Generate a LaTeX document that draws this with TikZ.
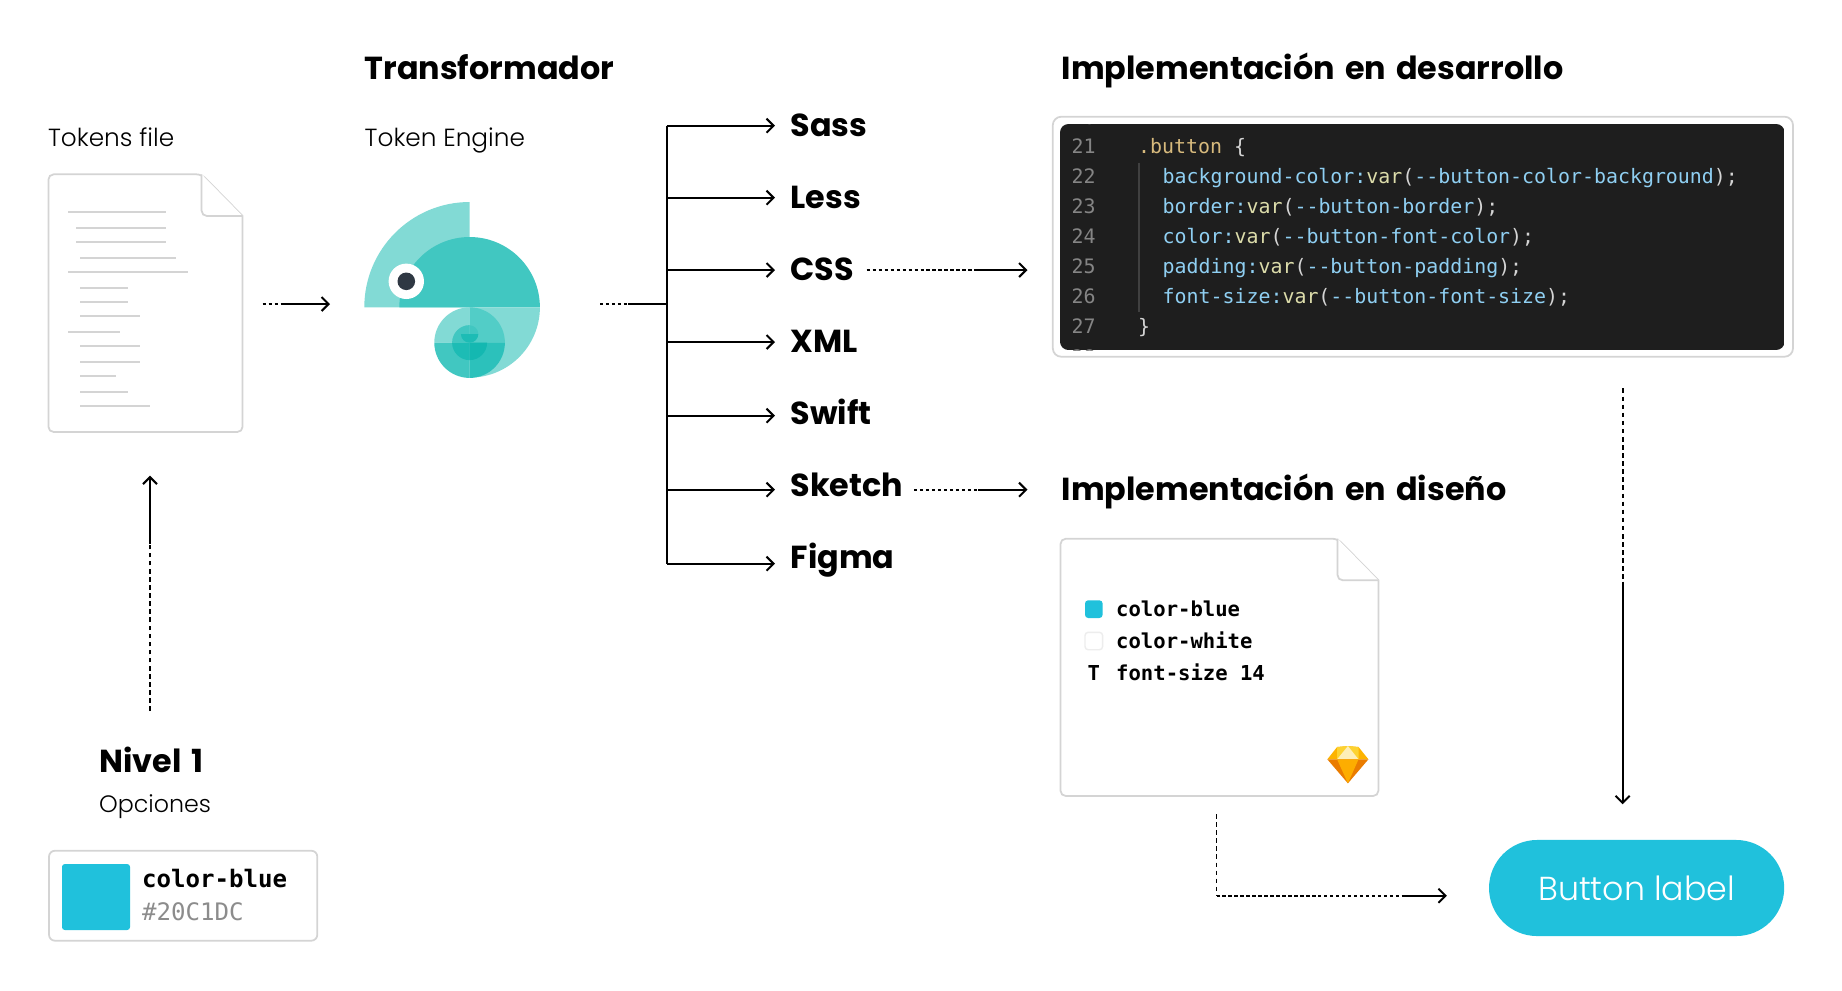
\documentclass[tikz,border=0pt]{standalone}
\usepackage{fontspec}
\usepackage{xcolor}
\usetikzlibrary{arrows.meta}

\newfontfamily\headfont{Poppins}[UprightFont=* Bold,WordSpace=1.5]
\newfontfamily\thinfont{Poppins}[UprightFont=* Light]
\newfontfamily\codefont{DejaVu Sans Mono}

\definecolor{tokenblue}{HTML}{20C1DC}
\definecolor{frame}{HTML}{D4D4D4}
\definecolor{chamlight}{HTML}{82DAD5}
\definecolor{chamsoft}{HTML}{52CDC7}
\definecolor{chammid}{HTML}{41C7C1}
\definecolor{chamshade}{HTML}{2CC1BB}
\definecolor{chamdark}{HTML}{1DBCB5}
\definecolor{chamdeep}{HTML}{14B8B1}
\definecolor{chameye}{HTML}{2F3843}
\definecolor{codeback}{HTML}{1E1E1E}
\definecolor{codenum}{HTML}{858585}
\definecolor{codeguide}{HTML}{404040}
\definecolor{codeclass}{HTML}{D7BA7D}
\definecolor{codeprop}{HTML}{8FCFF2}
\definecolor{codevar}{HTML}{DCDCAA}
\definecolor{codepunct}{HTML}{D4D4D4}
\definecolor{gemtop}{HTML}{FDB300}
\definecolor{gemside}{HTML}{EA7C00}
\definecolor{gemmid}{HTML}{FDAD00}
\definecolor{gembright}{HTML}{FDD231}
\definecolor{gempale}{HTML}{FEEEB7}

\newcommand{\cv}{\textcolor{codevar}{var}\textcolor{codepunct}{(}}
\newcommand{\ce}{\textcolor{codepunct}{);}}

\tikzset{
  title/.style={anchor=base west,inner sep=0pt,font=\headfont\fontsize{9.05}{10}\selectfont},
  thin/.style={anchor=base west,inner sep=0pt,font=\thinfont\fontsize{7.05}{8}\selectfont},
  codeline/.style={anchor=base west,inner sep=0pt,text=codeprop,font=\codefont\fontsize{5.66}{7}\selectfont},
  codenumber/.style={anchor=base west,inner sep=0pt,text=codenum,font=\codefont\fontsize{5.66}{7}\selectfont},
  layerline/.style={anchor=base west,inner sep=0pt,font=\codefont\bfseries\fontsize{5.85}{7}\selectfont},
  linkline/.style={line width=.57pt,-{Straight Barb[length=2pt,width=4pt,line width=.57pt]}},
  trunkline/.style={line width=.57pt},
  dotline/.style={line width=.55pt,dash pattern=on .95pt off .75pt},
  dotlinev/.style={line width=.55pt,dash pattern=on 1.3pt off 1pt},
  paper/.style={draw=frame,line width=.5pt,fill=white},
  rule/.style={draw=frame,line width=.55pt},
}

\begin{document}
\begin{tikzpicture}[x=.01cm,y=-.01cm]
\useasboundingbox (0,0) rectangle (1842,990);

% titles
\node[title] (transformador) at (364,79.5) {Transformador};
\node[title] (devtitle) at (1061,79.5) {Implementación en desarrollo};
\node[title] (designtitle) at (1061,500) {Implementación en diseño};
\node[thin] (tokensfile) at (47.4,146.7) {Tokens file};
\node[thin] (tokenengine) at (364,146.7) {Token Engine};

% tokens file
\draw[paper,rounded corners=1.5pt] (48.4,174.3) -- (201.6,174.3) [sharp corners] -- (242.6,216) [rounded corners=1.5pt] -- (242.6,432) -- (48.4,432) -- cycle;
\draw[paper,rounded corners=1.5pt] (201.6,174.3) -- (201.6,216) -- (242.6,216);
\draw[rule] (68,212.3) -- (166,212.3);
\draw[rule] (76,228) -- (166,228);
\draw[rule] (76,242.3) -- (166,242.3);
\draw[rule] (80,258.3) -- (175.6,258.3);
\draw[rule] (68,272.3) -- (187.5,272.3);
\draw[rule] (80,288.3) -- (128,288.3);
\draw[rule] (80,302.3) -- (128,302.3);
\draw[rule] (80,316.3) -- (140,316.3);
\draw[rule] (68,332.3) -- (120,332.3);
\draw[rule] (80,346.3) -- (140,346.3);
\draw[rule] (80,362.3) -- (140,362.3);
\draw[rule] (80,376.3) -- (116,376.3);
\draw[rule] (80,392.3) -- (128,392.3);
\draw[rule] (80,406) -- (150,406);

% token engine
\begin{scope}[shift={(469.6,307.3)},x=.01cm,y=.01cm]
  \fill[chamlight] (0,0) -- (180:105.3) arc (180:90:105.3) -- cycle;
  \fill[chammid] (-70.3,0) arc (180:0:70.3) -- cycle;
  \fill[chamlight] (0,0) -- (0:70.3) arc (0:-90:70.3) -- cycle;
  \fill[chamlight] (0,-35.3) -- ++(90:35.3) arc (90:180:35.3) -- cycle;
  \fill[chamsoft] (0,-35.3) -- ++(0:35.3) arc (0:90:35.3) -- cycle;
  \fill[chammid] (0,-35.3) -- ++(180:35.3) arc (180:270:35.3) -- cycle;
  \fill[chamshade] (0,-35.3) -- ++(270:35.3) arc (270:360:35.3) -- cycle;
  \fill[chammid] (0,-35.3) -- ++(90:17.5) arc (90:180:17.5) -- cycle;
  \fill[chamdark] (0,-35.3) -- ++(180:17.5) arc (180:270:17.5) -- cycle;
  \fill[chamdeep] (0,-35.3) -- ++(270:17.5) arc (270:360:17.5) -- cycle;
  \fill[chammid] (0,-26.7) -- ++(0:8.7) arc (0:90:8.7) -- cycle;
  \fill[chamdark] (-8.7,-26.7) arc (180:360:8.7) -- cycle;
  \fill[white] (-63.3,26) circle (17.7);
  \fill[chameye] (-63.3,26) circle (8.8);
\end{scope}

% outputs
\node[title] (sass) at (790,136.3) {Sass};
\node[title] (less) at (790,208.3) {Less};
\node[title] (css) at (790,280.7) {CSS};
\node[title] (xml) at (790,352.7) {XML};
\node[title] (swift) at (790,424.3) {Swift};
\node[title] (sketch) at (790,496.7) {Sketch};
\node[title] (figma) at (790,568.7) {Figma};

\coordinate (tsass) at (666.7,125.7);
\coordinate (tless) at (666.7,197.7);
\coordinate (tcss) at (666.7,270);
\coordinate (tfeed) at (666.7,303.7);
\coordinate (txml) at (666.7,342);
\coordinate (tswift) at (666.7,415.7);
\coordinate (tsketch) at (666.7,489.7);
\coordinate (tfigma) at (666.7,563.7);
\coordinate (esass) at (775,125.7);
\coordinate (eless) at (775,197.7);
\coordinate (ecss) at (775,270);
\coordinate (exml) at (775,342);
\coordinate (eswift) at (775,415.7);
\coordinate (esketch) at (775,489.7);
\coordinate (efigma) at (775,563.7);
\coordinate (feeda) at (600,303.7);
\coordinate (feedb) at (628,303.7);

\draw[trunkline] (tsass) -- (tfigma);
\draw[dotline] (feeda) -- (feedb);
\draw[trunkline] (feedb) -- (tfeed);
\path[linkline]
    (tsass) edge (esass)
    (tless) edge (eless)
    (tcss) edge (ecss)
    (txml) edge (exml)
    (tswift) edge (eswift)
    (tsketch) edge (esketch)
    (tfigma) edge (efigma);

% file to engine
\coordinate (filea) at (262.7,304);
\coordinate (fileb) at (281.7,304);
\coordinate (filec) at (330,304);
\draw[dotline] (filea) -- (fileb);
\draw[linkline] (fileb) -- (filec);

% css and sketch links
\coordinate (cssa) at (866.7,270);
\coordinate (cssb) at (978,270);
\coordinate (cssc) at (1027.5,270);
\draw[dotline] (cssa) -- (cssb);
\draw[linkline] (cssb) -- (cssc);
\coordinate (ska) at (914,489.7);
\coordinate (skb) at (978,489.7);
\coordinate (skc) at (1027.5,489.7);
\draw[dotline] (ska) -- (skb);
\draw[linkline] (skb) -- (skc);

% code window
\draw[paper,rounded corners=2.4pt] (1052.8,116.7) rectangle (1793,356.7);
\begin{scope}
  \clip[rounded corners=2.4pt] (1060,124) rectangle (1784.6,350);
  \fill[codeback] (1060,124) rectangle (1784.6,350);
  \node[codenumber] (num20) at (1071,124) {20};
  \node[codenumber] (num28) at (1071,364) {28};
\end{scope}
\draw[line width=.3pt,draw=codeguide] (1139,162.7) -- (1139,311.7);
\node[codenumber] (num21) at (1071,153.5) {21};
\node[codenumber] (num22) at (1071,183.5) {22};
\node[codenumber] (num23) at (1071,213.5) {23};
\node[codenumber] (num24) at (1071,243.5) {24};
\node[codenumber] (num25) at (1071,273.5) {25};
\node[codenumber] (num26) at (1071,303.5) {26};
\node[codenumber] (num27) at (1071,333.5) {27};
\node[codeline] (code21) at (1137.5,153.5) {\textcolor{codeclass}{.button} \textcolor{codepunct}{\{}};
\node[codeline] (code22) at (1162,183.5) {background-color:\cv--button-color-background\ce};
\node[codeline] (code23) at (1162,213.5) {border:\cv--button-border\ce};
\node[codeline] (code24) at (1162,243.5) {color:\cv--button-font-color\ce};
\node[codeline] (code25) at (1162,273.5) {padding:\cv--button-padding\ce};
\node[codeline] (code26) at (1162,303.5) {font-size:\cv--button-font-size\ce};
\node[codeline] (code27) at (1137.5,333.5) {\textcolor{codepunct}{\}}};

% design file
\draw[paper,rounded corners=1.5pt] (1060.5,538.7) -- (1337.5,538.7) [sharp corners] -- (1378.4,580.3) [rounded corners=1.5pt] -- (1378.4,796) -- (1060.5,796) -- cycle;
\draw[paper,rounded corners=1.5pt] (1337.5,538.7) -- (1337.5,580.3) -- (1378.4,580.3);
\fill[tokenblue,rounded corners=.9pt] (1085,600.3) rectangle (1102.6,618);
\draw[draw=black!7,fill=white,line width=.4pt,rounded corners=.9pt] (1085,632.3) rectangle (1102.6,649.7);
\node[layerline,anchor=base] (layert) at (1093.9,680) {T};
\node[layerline] (layerblue) at (1115.5,616) {color-blue};
\node[layerline] (layerwhite) at (1115.5,648) {color-white};
\node[layerline] (layerfont) at (1115.5,680) {font-size 14};

% sketch gem
\fill[gemtop] (1327.3,759.3) -- (1337.1,747) -- (1347.9,746) -- (1358.5,747) -- (1368.4,759.3) -- cycle;
\fill[gembright] (1337.1,747) -- (1347.9,746) -- (1358.5,747) -- (1358.5,759.3) -- (1337.1,759.3) -- cycle;
\fill[gempale] (1347.9,746) -- (1358.5,759.3) -- (1337.1,759.3) -- cycle;
\fill[gemside] (1327.3,759.3) -- (1368.4,759.3) -- (1347.9,783.3) -- cycle;
\fill[gemmid] (1337.1,759.3) -- (1358.5,759.3) -- (1347.9,783.3) -- cycle;

% button
\node[fill=tokenblue,rounded corners=.48cm,minimum width=2.95cm,minimum height=.96cm,inner sep=0pt,text=white,font=\thinfont\fontsize{9.45}{10}\selectfont] (btnlabel) at (1636.6,888) {Button label};

% code to button
\coordinate (coda) at (1622.6,388.4);
\coordinate (codb) at (1622.6,581.7);
\coordinate (codc) at (1622.6,804.3);
\draw[dotlinev] (coda) -- (codb);
\draw[linkline] (codb) -- (codc);

% design to button
\coordinate (desa) at (1216.5,814);
\coordinate (desb) at (1216.5,895.7);
\coordinate (desc) at (1401.7,895.7);
\coordinate (desd) at (1446.9,895.7);
\draw[dotlinev] (desa) -- (desb);
\draw[dotline] (desb) -- (desc);
\draw[linkline] (desc) -- (desd);

% level one
\coordinate (lvla) at (150,711);
\coordinate (lvlb) at (150,544);
\coordinate (lvlc) at (150,475.7);
\draw[dotlinev] (lvla) -- (lvlb);
\draw[linkline] (lvlb) -- (lvlc);
\node[title] (nivel) at (98.5,772.3) {Nivel 1};
\node[thin,font=\thinfont\fontsize{6.75}{8}\selectfont] (opciones) at (98.5,812.3) {Opciones};
\draw[paper,rounded corners=1.7pt] (49,850.7) rectangle (317.3,940.7);
\fill[tokenblue,rounded corners=.8pt] (62,864) rectangle (130,930);
\node[anchor=base west,inner sep=0pt,font=\codefont\bfseries\fontsize{6.85}{8}\selectfont] (tokenname) at (141.3,887.7) {color-blue};
\node[anchor=base west,inner sep=0pt,text=black!45,font=\codefont\fontsize{6.85}{8}\selectfont] (tokenhex) at (141.3,920) {\#20C1DC};

\end{tikzpicture}
\end{document}
